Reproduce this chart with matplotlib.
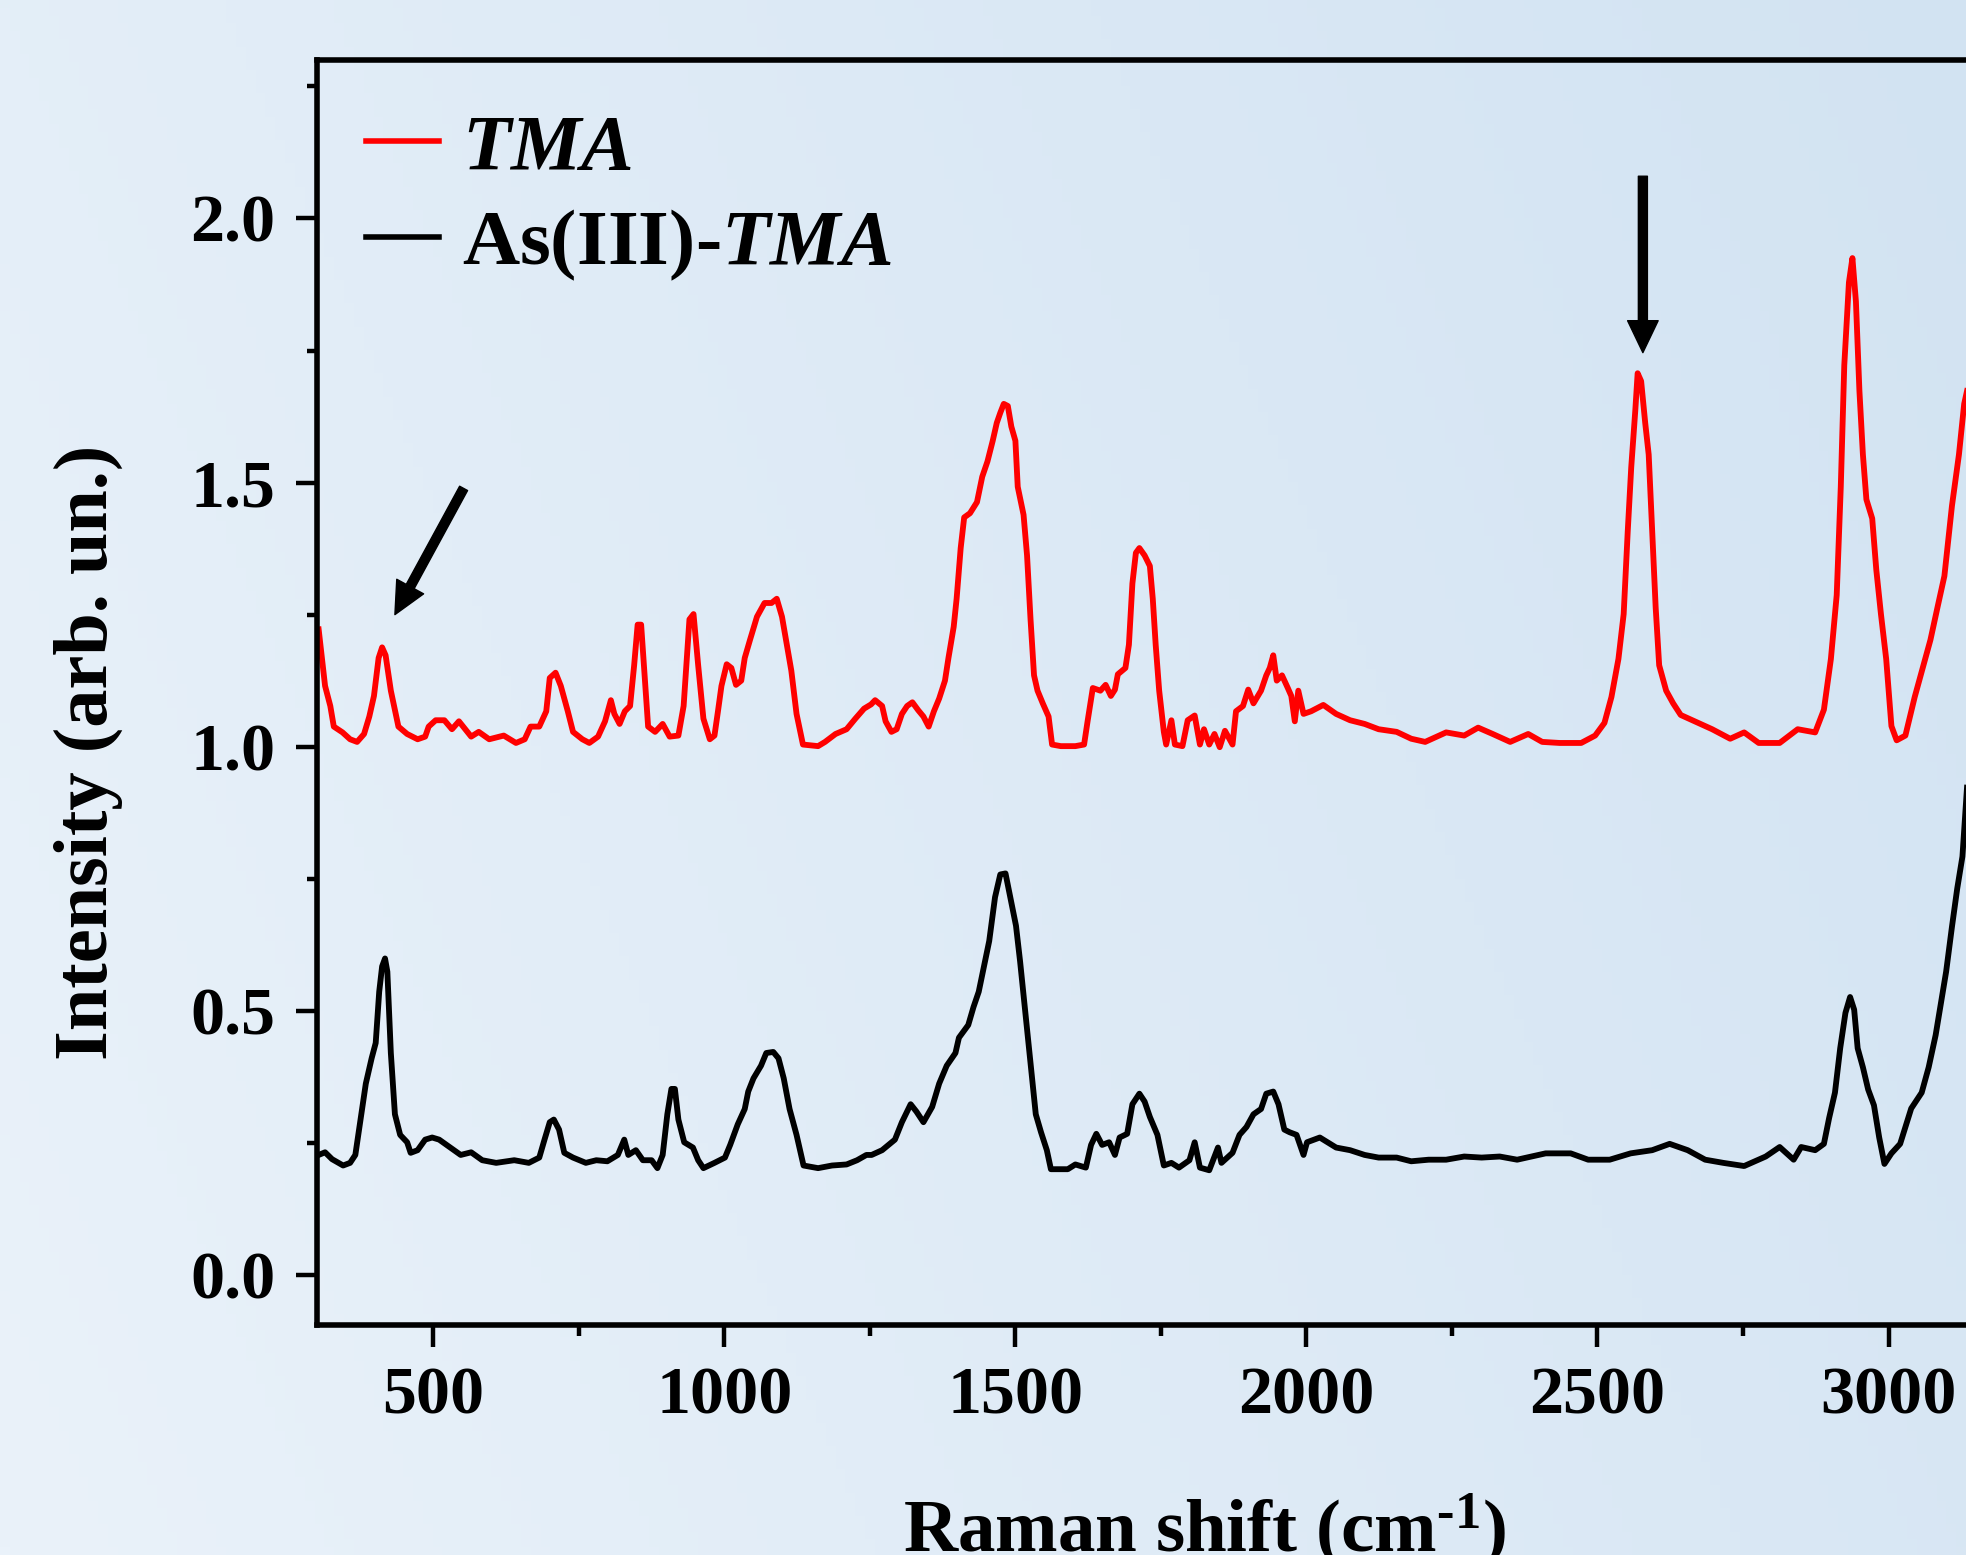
import numpy as np
import matplotlib
matplotlib.use('Agg')
import matplotlib.pyplot as plt
from matplotlib.ticker import MultipleLocator, FormatStrFormatter

plt.rcParams['font.family'] = ['Liberation Serif', 'DejaVu Serif']
plt.rcParams['font.weight'] = 'bold'
plt.rcParams['mathtext.fontset'] = 'custom'
plt.rcParams['mathtext.rm'] = 'Liberation Serif:bold'
plt.rcParams['mathtext.it'] = 'Liberation Serif:italic:bold'
plt.rcParams['mathtext.bf'] = 'Liberation Serif:bold'

# TMA spectrum (red)
tma_x = [303, 314, 323, 329, 344, 357, 369, 381, 390, 398, 406, 412, 418, 427, 440, 455, 473, 486, 492,
         504, 519, 532, 544, 565, 578, 596, 621, 642, 657, 667, 682, 694, 700, 710, 719, 731, 740, 756,
         768, 783, 795, 805, 811, 820, 829, 838, 845, 851, 857, 863, 869, 881, 894, 906, 921, 930, 940,
         947, 955, 964, 975, 983, 989, 995, 1004, 1012, 1020, 1029, 1035, 1044, 1056, 1069, 1081, 1090,
         1099, 1115, 1124, 1135, 1161, 1173, 1191, 1210, 1225, 1240, 1252, 1259, 1271, 1277, 1287,
         1296, 1305, 1314, 1323, 1333, 1342, 1351, 1360, 1369, 1379, 1385, 1394, 1399, 1406, 1412,
         1422, 1434, 1443, 1452, 1461, 1468, 1474, 1480, 1487, 1493, 1500, 1504, 1514, 1520, 1526,
         1532, 1538, 1547, 1557, 1563, 1578, 1603, 1618, 1624, 1633, 1646, 1655, 1664, 1671, 1676,
         1689, 1695, 1701, 1707, 1713, 1722, 1731, 1736, 1741, 1747, 1755, 1759, 1768, 1774, 1787,
         1796, 1808, 1817, 1824, 1833, 1842, 1851, 1860, 1873, 1879, 1891, 1900, 1909, 1922, 1931,
         1937, 1943, 1949, 1958, 1968, 1974, 1980, 1986, 1995, 2008, 2029, 2051, 2075, 2100, 2124,
         2155, 2180, 2204, 2240, 2271, 2295, 2320, 2350, 2381, 2405, 2435, 2472, 2496, 2512, 2524,
         2536, 2545, 2552, 2558, 2565, 2569, 2575, 2582, 2588, 2594, 2600, 2606, 2618, 2630, 2643,
         2667, 2697, 2728, 2752, 2777, 2813, 2844, 2874, 2889, 2901, 2911, 2918, 2924, 2932, 2938,
         2944, 2950, 2956, 2962, 2972, 2979, 2987, 2996, 3005, 3014, 3029, 3045, 3057, 3072, 3084,
         3096, 3109, 3121, 3130, 3135]
tma_y = [1.222, 1.115, 1.077, 1.038, 1.027, 1.014, 1.009, 1.024, 1.057, 1.096, 1.168, 1.188, 1.173,
         1.106, 1.038, 1.024, 1.014, 1.019, 1.038, 1.050, 1.050, 1.033, 1.048, 1.019, 1.028, 1.014,
         1.021, 1.007, 1.014, 1.038, 1.038, 1.067, 1.130, 1.140, 1.115, 1.067, 1.028, 1.014, 1.007,
         1.019, 1.048, 1.088, 1.062, 1.043, 1.067, 1.077, 1.154, 1.231, 1.231, 1.135, 1.038, 1.028,
         1.043, 1.019, 1.021, 1.077, 1.241, 1.251, 1.154, 1.053, 1.014, 1.021, 1.067, 1.115, 1.156,
         1.149, 1.117, 1.125, 1.168, 1.202, 1.246, 1.272, 1.272, 1.280, 1.246, 1.144, 1.062, 1.004,
         1.001, 1.009, 1.024, 1.033, 1.053, 1.072, 1.080, 1.088, 1.077, 1.048, 1.028, 1.033, 1.062,
         1.077, 1.084, 1.069, 1.057, 1.038, 1.067, 1.091, 1.125, 1.168, 1.227, 1.280, 1.376, 1.434,
         1.442, 1.463, 1.511, 1.540, 1.579, 1.613, 1.632, 1.649, 1.645, 1.606, 1.579, 1.492, 1.439,
         1.362, 1.241, 1.135, 1.106, 1.082, 1.057, 1.004, 1.001, 1.001, 1.004, 1.048, 1.111, 1.106,
         1.117, 1.096, 1.108, 1.137, 1.149, 1.193, 1.309, 1.367, 1.376, 1.362, 1.342, 1.280, 1.193,
         1.106, 1.028, 1.004, 1.050, 1.004, 1.001, 1.050, 1.059, 1.004, 1.033, 1.004, 1.024, 0.999,
         1.030, 1.004, 1.067, 1.077, 1.108, 1.082, 1.106, 1.135, 1.149, 1.173, 1.125, 1.135, 1.111,
         1.096, 1.048, 1.106, 1.062, 1.067, 1.079, 1.062, 1.050, 1.043, 1.033, 1.028, 1.015, 1.009,
         1.027, 1.021, 1.036, 1.024, 1.009, 1.024, 1.009, 1.007, 1.007, 1.021, 1.045, 1.094, 1.166,
         1.251, 1.408, 1.529, 1.637, 1.707, 1.692, 1.613, 1.553, 1.408, 1.263, 1.154, 1.106, 1.082,
         1.060, 1.048, 1.033, 1.015, 1.027, 1.007, 1.007, 1.033, 1.027, 1.070, 1.166, 1.287, 1.492,
         1.722, 1.879, 1.925, 1.843, 1.674, 1.553, 1.468, 1.432, 1.335, 1.251, 1.166, 1.039, 1.012,
         1.021, 1.094, 1.142, 1.202, 1.263, 1.323, 1.456, 1.553, 1.649, 1.674]

# As(III)-TMA spectrum (black)
as_x = [303, 314, 326, 345, 357, 366, 375, 384, 394, 401, 407, 412, 417, 421, 427, 434, 443, 455, 461,
        473, 486, 498, 510, 529, 547, 565, 584, 608, 639, 664, 682, 691, 700, 707, 716, 725, 740, 762,
        780, 799, 817, 828, 835, 848, 860, 875, 885, 894, 902, 909, 915, 921, 931, 946, 955, 964, 983,
        1001, 1010, 1023, 1035, 1041, 1050, 1063, 1072, 1084, 1093, 1102, 1112, 1124, 1136, 1161,
        1185, 1210, 1228, 1244, 1253, 1271, 1293, 1305, 1320, 1330, 1342, 1357, 1369, 1382, 1397,
        1403, 1419, 1428, 1437, 1446, 1455, 1465, 1474, 1483, 1492, 1501, 1508, 1517, 1526, 1535,
        1544, 1554, 1561, 1590, 1603, 1621, 1630, 1639, 1649, 1661, 1671, 1679, 1692, 1701, 1713,
        1722, 1731, 1744, 1755, 1768, 1781, 1799, 1808, 1817, 1833, 1848, 1854, 1873, 1885, 1897,
        1909, 1922, 1931, 1943, 1952, 1962, 1971, 1983, 1995, 2001, 2023, 2051, 2075, 2100, 2124,
        2155, 2180, 2210, 2240, 2271, 2301, 2332, 2362, 2411, 2454, 2484, 2521, 2557, 2594, 2624,
        2655, 2685, 2716, 2752, 2789, 2813, 2837, 2850, 2874, 2889, 2898, 2908, 2917, 2926, 2934,
        2941, 2947, 2956, 2965, 2975, 2984, 2993, 3005, 3020, 3039, 3057, 3069, 3081, 3090, 3099,
        3109, 3118, 3127, 3135]
as_y = [0.227, 0.232, 0.219, 0.207, 0.212, 0.227, 0.294, 0.362, 0.410, 0.439, 0.536, 0.584, 0.599,
        0.574, 0.420, 0.304, 0.265, 0.251, 0.231, 0.236, 0.256, 0.260, 0.256, 0.241, 0.227, 0.232,
        0.217, 0.212, 0.217, 0.212, 0.222, 0.256, 0.289, 0.294, 0.275, 0.231, 0.222, 0.212, 0.217,
        0.215, 0.227, 0.256, 0.227, 0.236, 0.217, 0.217, 0.202, 0.227, 0.304, 0.352, 0.352, 0.294,
        0.251, 0.241, 0.217, 0.202, 0.212, 0.222, 0.246, 0.285, 0.314, 0.347, 0.372, 0.396, 0.420,
        0.422, 0.410, 0.372, 0.314, 0.265, 0.207, 0.202, 0.207, 0.209, 0.217, 0.227, 0.227, 0.236,
        0.256, 0.289, 0.323, 0.309, 0.289, 0.318, 0.362, 0.396, 0.420, 0.449, 0.473, 0.507, 0.536,
        0.584, 0.632, 0.715, 0.758, 0.760, 0.710, 0.661, 0.594, 0.497, 0.401, 0.304, 0.270, 0.236,
        0.200, 0.200, 0.209, 0.203, 0.246, 0.267, 0.246, 0.251, 0.227, 0.260, 0.267, 0.323, 0.343,
        0.328, 0.299, 0.265, 0.207, 0.212, 0.203, 0.217, 0.251, 0.203, 0.198, 0.241, 0.212, 0.231,
        0.265, 0.280, 0.304, 0.314, 0.343, 0.347, 0.323, 0.275, 0.270, 0.265, 0.227, 0.251, 0.260,
        0.241, 0.236, 0.227, 0.222, 0.222, 0.215, 0.218, 0.218, 0.224, 0.222, 0.224, 0.218, 0.230,
        0.230, 0.218, 0.218, 0.230, 0.236, 0.248, 0.236, 0.218, 0.212, 0.206, 0.224, 0.242, 0.218,
        0.242, 0.236, 0.248, 0.297, 0.345, 0.429, 0.496, 0.526, 0.502, 0.429, 0.393, 0.351, 0.321,
        0.260, 0.210, 0.230, 0.248, 0.315, 0.345, 0.393, 0.454, 0.514, 0.574, 0.659, 0.731, 0.792,
        0.925]

fig = plt.figure(figsize=(19.66, 15.55), dpi=100)

# soft blue gradient background
bg = fig.add_axes([0, 0, 1, 1], zorder=-10)
gx, gy = np.meshgrid(np.linspace(0, 1, 200), np.linspace(0, 1, 200))
t = np.clip(0.75 * gx + 0.25 * gy, 0, 1)
c0 = np.array([234, 242, 250]) / 255.0
c1 = np.array([210, 227, 242]) / 255.0
img = c0[None, None, :] * (1 - t[..., None]) + c1[None, None, :] * t[..., None]
bg.imshow(img, extent=[0, 1, 0, 1], origin='lower', aspect='auto')
bg.axis('off')

ax = fig.add_axes([0.1612, 0.1479, 0.8586, 0.8135])
ax.set_facecolor('none')

l1, = ax.plot(tma_x, tma_y, color='red', lw=4.2)
l2, = ax.plot(as_x, as_y, color='black', lw=4.2)

ax.set_xlim(300, 3200)
ax.set_ylim(-0.095, 2.30)

ax.xaxis.set_major_locator(MultipleLocator(500))
ax.xaxis.set_minor_locator(MultipleLocator(250))
ax.yaxis.set_major_locator(MultipleLocator(0.5))
ax.yaxis.set_minor_locator(MultipleLocator(0.25))
ax.yaxis.set_major_formatter(FormatStrFormatter('%.1f'))

for s in ax.spines.values():
    s.set_linewidth(4)
ax.tick_params(which='major', direction='out', length=16, width=3.2, labelsize=49, pad=14)
ax.tick_params(which='minor', direction='out', length=8, width=3.2)
ax.tick_params(axis='y', which='major', length=15, pad=15)
ax.tick_params(axis='y', which='minor', length=7)

ax.set_ylabel('Intensity (arb. un.)', fontsize=55, fontweight='bold')
ax.yaxis.set_label_coords(-0.115, 0.453)
ax.set_xlabel(r'Raman shift (cm$^{\text{-1}}$)', fontsize=54, fontweight='bold')
ax.xaxis.set_label_coords(0.5255, -0.132)

leg = ax.legend([l1, l2], [r'$\mathit{TMA}$', r'As(III)-$\mathit{TMA}$'], loc='upper left',
                bbox_to_anchor=(0.029, 0.958), frameon=False, fontsize=57, handlelength=0.92,
                handletextpad=0.3, labelspacing=0.28, borderpad=0, borderaxespad=0)
for h in leg.get_lines():
    h.set_linewidth(4)

# arrows marking the bands
ax.annotate('', xy=(434, 1.25), xytext=(552, 1.489),
            arrowprops=dict(width=6.5, headwidth=22, headlength=23, color='black', shrink=0))
ax.annotate('', xy=(2578, 1.746), xytext=(2578, 2.08),
            arrowprops=dict(width=6.5, headwidth=22, headlength=23, color='black', shrink=0))

fig.savefig('out.png', dpi=100)
